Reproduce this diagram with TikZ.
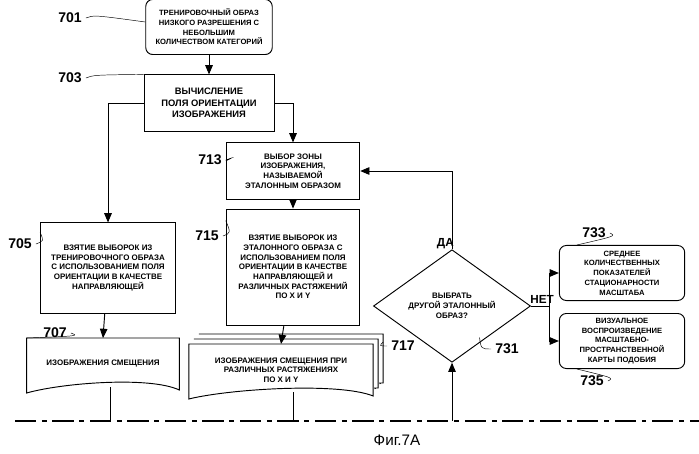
\documentclass[tikz,border=0pt]{standalone}
\usepackage{fontspec}
\setmainfont{Liberation Sans}
\usetikzlibrary{arrows,positioning,shapes,calc}
\tikzset{step/.style={
  % The shape:
  rectangle,
  % The size:
  minimum width=#1,
  minimum height=48,
  % The border:
  thick,draw=black,
  % Font:
  font=\fontsize{6.8}{8.3}\selectfont\bfseries,
  align=center,inner sep=1pt,
  },
  step/.default=114
}
\tikzset{terminal/.style={
  % The shape:
  rectangle,rounded corners=6pt,
  minimum width=107,minimum height=47,
  % The rest
  thick,draw=black,inner sep=1pt,
  font=\fontsize{6.5}{8.3}\selectfont\bfseries,align=center,
  }
}
\tikzset{doc/.style={
  minimum width=#1,minimum height=44,inner sep=1pt,
  font=\fontsize{6.8}{8.3}\selectfont\bfseries,align=center,
  }
}
\tikzset{num/.style={font=\fontsize{12}{12}\selectfont\bfseries}}
\begin{document}
\begin{tikzpicture}[x=0.03cm,y=-0.03cm,>=triangle 45]
  \useasboundingbox (0,0) rectangle (699,454);
  % Boxes:
  \node (b701) [terminal,minimum width=108] at (209,27) {ТРЕНИРОВОЧНЫЙ ОБРАЗ\\НИЗКОГО РАЗРЕШЕНИЯ С\\НЕБОЛЬШИМ\\КОЛИЧЕСТВОМ КАТЕГОРИЙ};
  \node (b703) [step=111,font=\fontsize{8}{10}\selectfont\bfseries] at (209,103) {ВЫЧИСЛЕНИЕ\\ПОЛЯ ОРИЕНТАЦИИ\\ИЗОБРАЖЕНИЯ};
  \node (b713) [step] at (293,171) {ВЫБОР ЗОНЫ\\ИЗОБРАЖЕНИЯ,\\НАЗЫВАЕМОЙ\\ЭТАЛОННЫМ ОБРАЗОМ};
  \node (b715) [step,minimum height=99] at (293,267) {ВЗЯТИЕ ВЫБОРОК ИЗ\\ЭТАЛОННОГО ОБРАЗА С\\ИСПОЛЬЗОВАНИЕМ ПОЛЯ\\ОРИЕНТАЦИИ В КАЧЕСТВЕ\\НАПРАВЛЯЮЩЕЙ И\\РАЗЛИЧНЫХ РАСТЯЖЕНИЙ\\ПО X И Y};
  \node (b705) [step=115,minimum height=77] at (108,268) {ВЗЯТИЕ ВЫБОРОК ИЗ\\ТРЕНИРОВОЧНОГО ОБРАЗА\\С ИСПОЛЬЗОВАНИЕМ ПОЛЯ\\ОРИЕНТАЦИИ В КАЧЕСТВЕ\\НАПРАВЛЯЮЩЕЙ};
  \node (b707) [doc=130] at (103,364) {ИЗОБРАЖЕНИЯ СМЕЩЕНИЯ};
  \node (b717) [doc=157] at (281,370) {};
  \node (b731) [diamond,thick,draw,minimum width=134,minimum height=86,inner sep=0pt,
    font=\fontsize{6.8}{8.5}\selectfont\bfseries,align=center] at (452,306) {ВЫБРАТЬ\\ДРУГОЙ ЭТАЛОННЫЙ\\ОБРАЗ?};
  \node (b733) [terminal] at (622,273) {СРЕДНЕЕ\\КОЛИЧЕСТВЕННЫХ\\ПОКАЗАТЕЛЕЙ\\СТАЦИОНАРНОСТИ\\МАСШТАБА};
  \node (b735) [terminal] at (622,341) {ВИЗУАЛЬНОЕ\\ВОСПРОИЗВЕДЕНИЕ\\МАСШТАБНО-\\ПРОСТРАНСТВЕННОЙ\\КАРТЫ ПОДОБИЯ};
  % Document outlines:
  \draw[thick] (b707.north west) -- (b707.north east) -- (b707.south east)
    .. controls +(-30,-14) and +(35,-10) .. ($(b707.south west)+(0,3)$) -- cycle;
  \foreach \d in {10,5} \draw[thick,fill=white] ($(b717.north west)+(\d,-\d)$) -- ($(b717.north east)+(\d,-\d)$) -- ($(b717.south east)+(\d,-\d-3)$)
    .. controls +(-4,0) .. ($(b717.south east)+(\d-3,-\d-2)$);
  \draw[thick,fill=white] (b717.north west) -- (b717.north east) -- (b717.south east)
    .. controls +(-35,-14) and +(40,-10) .. ($(b717.south west)+(0,3)$) -- cycle;
  \node [doc=157] at (b717) {ИЗОБРАЖЕНИЯ СМЕЩЕНИЯ ПРИ\\РАЗЛИЧНЫХ РАСТЯЖЕНИЯХ\\ПО X И Y};
  % Baseline:
  \coordinate (l0) at (15,421);
  \coordinate (l1) at (699,421);
  \draw[very thick,dash pattern=on 18pt off 5pt on 4pt off 5pt] (l0) -- (l1);
  % Connectors:
  \draw[->,thick] (b701) -- (b703);
  \draw[->,thick] (b703.west) -| (b705.north);
  \draw[->,thick] (b703.east) -| (b713.north);
  \draw[->,thick] (b713) -- (b715);
  \draw[->,thick] (b705) -- (b707.north);
  \draw[->,thick] (b715) -- (b717.north);
  \draw[thick] ($(b707.south)+(7,-3)$) -- ($(l0)!(b707.south)!(l1)+(7,0)$);
  \draw[thick] ($(b717.south)+(12,-4)$) -- ($(l0)!(b717.south)!(l1)+(12,0)$);
  \draw[->,thick] ($(l0)!(b731.south)!(l1)$) -- (b731.south);
  \draw[->,thick] (b731.north) |- (b713.east);
  \coordinate (split) at ($(b731.east)+(18,0)$);
  \draw[thick] (b731.east) -- (split);
  \draw[->,thick] (split) |- (b733.west);
  \draw[->,thick] (split) |- (b735.west);
  \node [font=\fontsize{10}{10}\selectfont\bfseries,above left=-3pt and -5pt of b731.north] {ДА};
  \node [font=\fontsize{10}{10}\selectfont\bfseries,above right=-1pt and -4pt of b731.east] {НЕТ};
  % Reference numbers:
  \node (n701) [num] at (70,18) {701};
  \node (n703) [num] at (70,78) {703};
  \node (n713) [num] at (210,160) {713};
  \node (n705) [num] at (20,244) {705};
  \node (n715) [num] at (207,236) {715};
  \node (n707) [num] at (55,333) {707};
  \node (n717) [num] at (403,346) {717};
  \node (n731) [num] at (507,349) {731};
  \node (n733) [num] at (594,233) {733};
  \node (n735) [num] at (592,381) {735};
  \draw[thin] (n701.east) .. controls +(8,-3) .. ($(b701.west)+(0,-5)$);
  \draw[thin] (n703.east) .. controls +(8,-3) .. (b703.north west);
  \draw[thin] (n713.east) .. controls +(8,-3) .. ($(b713.west)+(0,-10)$);
  \draw[thin] (n705.east) .. controls +(8,-3) .. ($(b705.north west)+(0,10)$);
  \draw[thin] (n715.east) .. controls +(8,-3) .. ($(b715.north west)+(0,12)$);
  \draw[thin] (n707.east) .. controls +(8,3) .. (b707.north west);
  \draw[thin] (n717.west) .. controls +(-8,0) .. ($(b717.north east)+(10,-2)$);
  \draw[thin] (n731.west) .. controls +(-10,0) .. ($(b731.south east)+(-12,3)$);
  \draw[thin] (n733.east) .. controls +(6,3) .. ($(b733.north west)+(18,0)$);
  \draw[thin] (n735.east) .. controls +(6,-3) .. ($(b735.south west)+(18,0)$);
  % Caption:
  \node (cap) at (397,440) {\fontsize{13}{13}\selectfont Фиг.7A};
\end{tikzpicture}
\end{document}
